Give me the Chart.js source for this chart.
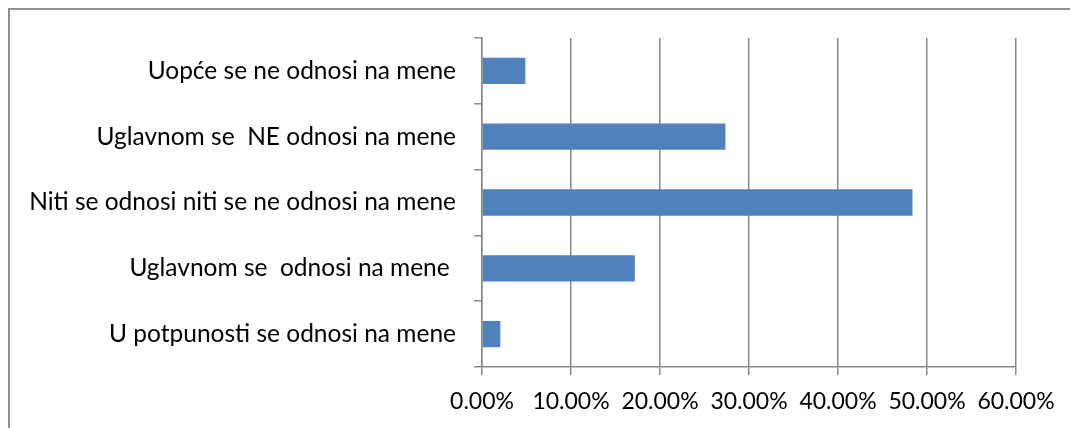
<!DOCTYPE html>
<html>
<head>
<meta charset="utf-8">
<script src="https://cdn.jsdelivr.net/npm/chart.js@4/dist/chart.umd.min.js"></script>
<style>
  html, body { margin: 0; padding: 0; background: #fff; }
  #wrap { position: relative; width: 1070px; height: 428px; overflow: hidden; }
  #frame { position: absolute; left: 8px; top: 8px; width: 1100px; height: 500px;
           border-left: 2px solid #8e8e8e; border-top: 2px solid #8e8e8e; }
  canvas { position: absolute; left: 0; top: 0; }
</style>
</head>
<body>
<div id="wrap">
  <div id="frame"></div>
  <canvas id="grafico" width="1070" height="428"></canvas>
</div>
<script>
const categories = [
  'Uopće se ne odnosi na mene',
  'Uglavnom se  NE odnosi na mene',
  'Niti se odnosi niti se ne odnosi na mene',
  'Uglavnom se  odnosi na mene ',
  'U potpunosti se odnosi na mene'
];
const values = [4.87, 27.35, 48.37, 17.17, 2.06];
const tickMax = 60;
const tickStep = 10;

document.addEventListener('DOMContentLoaded', function() {
  const ctx = document.getElementById('grafico').getContext('2d');
  const chart = new Chart(ctx, {
    type: 'bar',
    data: {
      labels: categories,
      datasets: [{
        data: values,
        backgroundColor: '#4f81bd',
        borderWidth: 0,
        categoryPercentage: 1,
        barPercentage: 0.4
      }]
    },
    options: {
      indexAxis: 'y',
      responsive: false,
      animation: false,
      layout: { padding: { top: 38, right: 54, left: 0, bottom: 0 } },
      plugins: { legend: { display: false }, tooltip: { enabled: false } },
      scales: {
        x: {
          min: 0,
          max: tickMax,
          afterFit: function(scale) { scale.height = 61; },
          ticks: {
            stepSize: tickStep,
            padding: 13,
            maxRotation: 0,
            minRotation: 0,
            autoSkip: false,
            color: '#000',
            font: { family: 'Lato', size: 23 },
            callback: function(v) { return v.toFixed(2) + '%'; }
          },
          grid: { color: '#888', lineWidth: 1.5, tickLength: 8 },
          border: { color: '#888', width: 1.5 }
        },
        y: {
          afterFit: function(scale) { scale.width = 482; },
          ticks: {
            padding: 18,
            color: '#000',
            font: { family: 'Lato', size: 24.5 }
          },
          grid: { drawOnChartArea: false, color: '#888', lineWidth: 1.5, tickLength: 8 },
          border: { color: '#888', width: 1.5 }
        }
      }
    }
  });
});
</script>
</body>
</html>
